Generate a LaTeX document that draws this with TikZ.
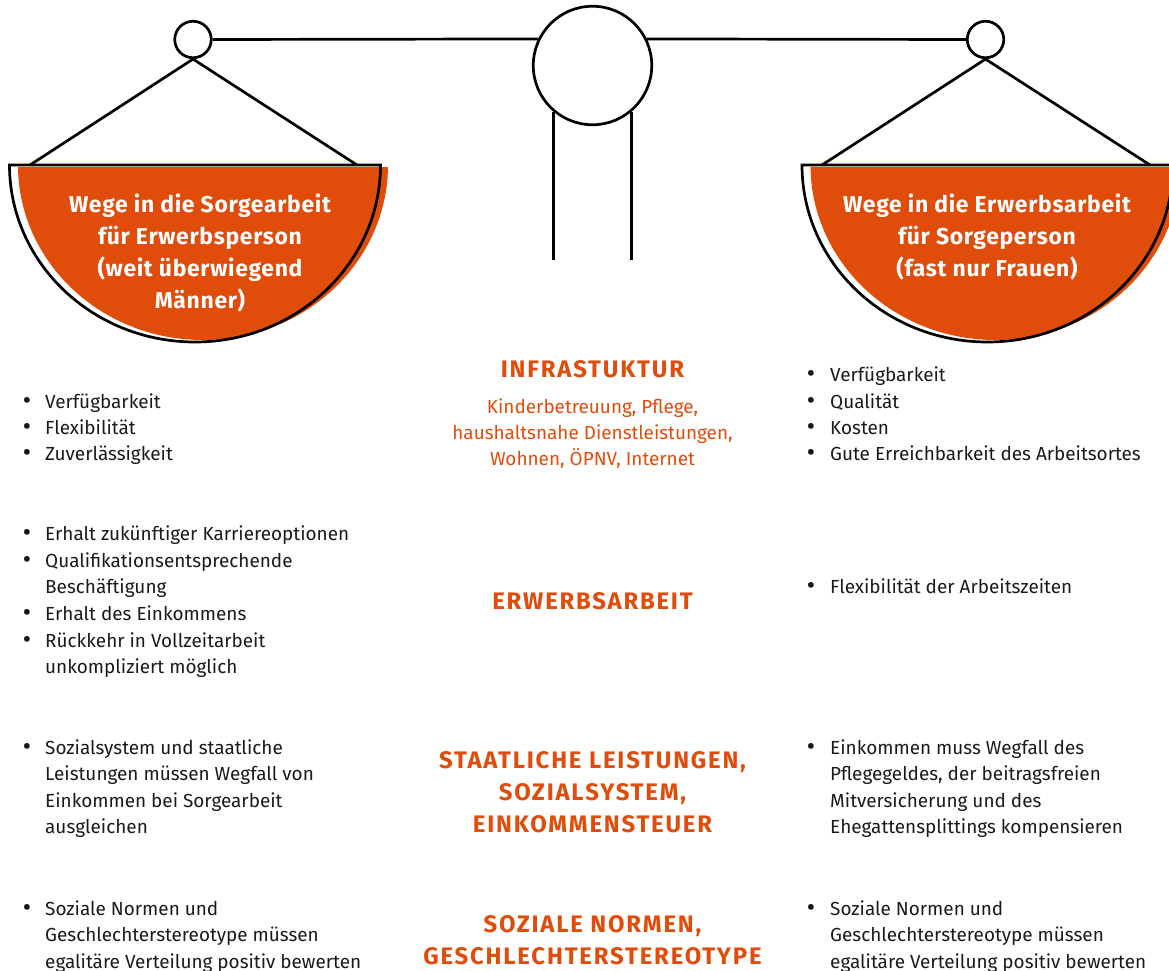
\documentclass[tikz,border=0pt]{standalone}
\usepackage{fontspec}
\setmainfont{Fira Sans}
\definecolor{bmorange}{RGB}{224,76,10}
\definecolor{txt}{RGB}{26,26,26}
\begin{document}
\begin{tikzpicture}[x=1bp,y=-1bp,
  ln/.style={line width=2.7bp, draw=black},
  ring/.style={circle, draw=black, line width=2.7bp, fill=white, inner sep=0pt, minimum size=#1},
  item/.style={anchor=base west, inner sep=0pt, align=left, text=txt, font=\fontsize{19}{26.6}\selectfont},
  bul/.style={anchor=center, inner sep=0pt, text=txt, font=\bfseries\fontsize{21}{21}\selectfont},
  head/.style={anchor=base, inner sep=0pt, align=center, text=bmorange, font=\bfseries\fontsize{24}{32}\selectfont\addfontfeature{LetterSpace=7.5}},
  infra/.style={anchor=base, inner sep=0pt, align=center, text=bmorange, font=\fontsize{19}{26}\selectfont},
  bowltxt/.style={anchor=base, inner sep=0pt, align=center, text=white, font=\bfseries\fontsize{23}{32}\selectfont\addfontfeature{LetterSpace=3}}
]
\useasboundingbox (0,0) rectangle (1169,971);

% bowls (orange fills)
\begin{scope}
  \clip (0,167) rectangle (1169,400);
  \fill[bmorange] (203,165) ellipse [x radius=185, y radius=175];
  \fill[bmorange] (995.5,165) ellipse [x radius=185, y radius=175];
\end{scope}
% bowl outlines
\draw[ln] (9.5,165) arc[start angle=180, end angle=0, x radius=185.5, y radius=177] -- cycle;
\draw[ln] (802,165) arc[start angle=180, end angle=0, x radius=185.5, y radius=177] -- cycle;

% rings
\node[ring=36.5bp] (lr) at (193,39.5) {};
\node[ring=36.5bp] (rr) at (985.5,39.5) {};
\node[ring=118.5bp] (cc) at (592.5,65.5) {};

% beam
\draw[ln] (lr.east) -- (cc.154);
\draw[ln] (cc.26) -- (rr.west);
% column
\coordinate (colbase) at (592.5,260);
\draw[ln] (cc.230) -- (cc.230 |- colbase);
\draw[ln] (cc.310) -- (cc.310 |- colbase);
% ropes
\coordinate (lbl) at (30,165);
\coordinate (lbrr) at (357,165);
\coordinate (rbl) at (822,165);
\coordinate (rbrr) at (1150,165);
\draw[ln] (lbl) -- (lr.south) -- (lbrr);
\draw[ln] (rbl) -- (rr.south) -- (rbrr);

% bowl texts (anchor = baseline of last line)
\node[bowltxt] (lbt) at (200,308) {Wege in die Sorgearbeit\\für Erwerbsperson\\(weit überwiegend\\Männer)};
\node[bowltxt] (rbt) at (987,276) {Wege in die Erwerbsarbeit\\für Sorgeperson\\(fast nur Frauen)};

% center headings
\node[head] (h1) at (592.5,377) {INFRASTUKTUR};
\node[infra] (h1b) at (592.5,465) {Kinderbetreuung, Pflege,\\haushaltsnahe Dienstleistungen,\\Wohnen, ÖPNV, Internet};
\node[head] (h2) at (592.5,609) {ERWERBSARBEIT};
\node[head] (h3) at (592.5,832) {STAATLICHE LEISTUNGEN,\\SOZIALSYSTEM,\\EINKOMMENSTEUER};
\node[head] (h4) at (592.5,964) {SOZIALE NORMEN,\\GESCHLECHTERSTEREOTYPE};

% left items
\node[bul] (lb1) at (27,402.5) {\textbullet};
\node[item] (li1) at (45,408) {Verfügbarkeit};
\node[bul] (lb2) at (27,428.5) {\textbullet};
\node[item] (li2) at (45,434) {Flexibilität};
\node[bul] (lb3) at (27,454.5) {\textbullet};
\node[item] (li3) at (45,460) {Zuverlässigkeit};

\node[bul] (lb4) at (27,534.5) {\textbullet};
\node[item] (li4) at (45,540) {Erhalt zukünftiger Karriereoptionen};
\node[bul] (lb5) at (27,561.5) {\textbullet};
\node[item] (li5) at (45,593.6) {Qualifikationsentsprechende\\Beschäftigung};
\node[bul] (lb6) at (27,614.5) {\textbullet};
\node[item] (li6) at (45,620) {Erhalt des Einkommens};
\node[bul] (lb7) at (27,641.5) {\textbullet};
\node[item] (li7) at (45,673.6) {Rückkehr in Vollzeitarbeit\\unkompliziert möglich};

\node[bul] (lb8) at (27,748.5) {\textbullet};
\node[item] (li8) at (45,833.8) {Sozialsystem und staatliche\\Leistungen müssen Wegfall von\\Einkommen bei Sorgearbeit\\ausgleichen};

\node[bul] (lb9) at (27,909.5) {\textbullet};
\node[item] (li9) at (45,968.2) {Soziale Normen und\\Geschlechterstereotype müssen\\egalitäre Verteilung positiv bewerten};

% right items
\node[bul] (rb1) at (811,375.5) {\textbullet};
\node[item] (ri1) at (830,381) {Verfügbarkeit};
\node[bul] (rb2) at (811,402.5) {\textbullet};
\node[item] (ri2) at (830,408) {Qualität};
\node[bul] (rb3) at (811,428.5) {\textbullet};
\node[item] (ri3) at (830,434) {Kosten};
\node[bul] (rb4) at (811,454.5) {\textbullet};
\node[item] (ri4) at (830,460) {Gute Erreichbarkeit des Arbeitsortes};

\node[bul] (rb5) at (811,587.5) {\textbullet};
\node[item] (ri5) at (830,593) {Flexibilität der Arbeitszeiten};

\node[bul] (rb6) at (811,748.5) {\textbullet};
\node[item] (ri6) at (830,833.8) {Einkommen muss Wegfall des\\Pflegegeldes, der beitragsfreien\\Mitversicherung und des\\Ehegattensplittings kompensieren};

\node[bul] (rb7) at (811,909.5) {\textbullet};
\node[item] (ri7) at (830,968.2) {Soziale Normen und\\Geschlechterstereotype müssen\\egalitäre Verteilung positiv bewerten};
\end{tikzpicture}
\end{document}
